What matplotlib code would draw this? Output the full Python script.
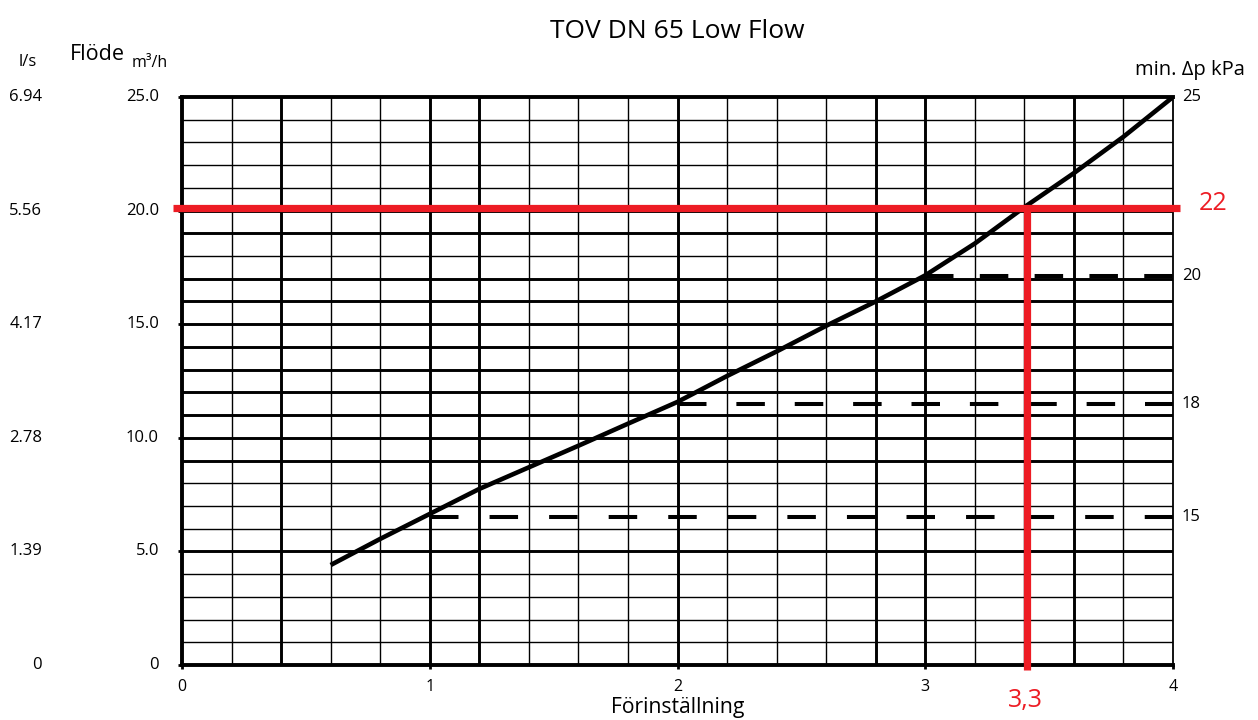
import numpy as np
import matplotlib
matplotlib.use("Agg")
import matplotlib.pyplot as plt

plt.rcParams['font.family'] = ['Open Sans', 'DejaVu Sans']
plt.rcParams['lines.scale_dashes'] = False

# ---- data ----
title = "TOV DN 65 Low Flow"
x_label = "Förinställning"
presetting = [0.6, 0.8, 1.0, 1.2, 1.4, 1.6, 1.8, 2.0, 2.2, 2.4, 2.6, 2.8,
              3.0, 3.2, 3.4, 3.6, 3.8, 4.0]
flow_m3h = [4.4, 5.55, 6.65, 7.75, 8.7, 9.65, 10.62, 11.58, 12.72, 13.8,
            14.93, 16.0, 17.15, 18.55, 20.15, 21.65, 23.25, 25.0]
x_ticks = [0, 1, 2, 3, 4]
y_ticks = [0, 5, 10, 15, 20, 25]
y_ticklabels = ["0", "5.0", "10.0", "15.0", "20.0", "25.0"]
ls_ticklabels = ["0", "1.39", "2.78", "4.17", "5.56", "6.94"]
dp_labels = ["15", "18", "20"]
dp_level = [6.53, 11.5, 17.13]
dp_start = [1.0, 2.0, 3.0]
dp_top_label = "25"
dp_top_level = 25.0
red_flow = 20.1
red_setting = 3.41
red_flow_label = "22"
red_setting_label = "3,3"

thick_h = [5, 9, 10, 11, 12, 13, 14, 15, 16, 17, 19, 20]
thick_v = [0.4, 1.0, 1.2, 2.0, 2.8, 3.0, 3.6]

W, H = 1258, 720
AX_W, AX_H = 991, 568
fig = plt.figure(figsize=(W / 100, H / 100), dpi=100)
ax = fig.add_axes([182 / W, 55 / H, AX_W / W, AX_H / H])
ax.set_xlim(0, 4)
ax.set_ylim(0, 25)

RED = '#ED1C24'

# grid
for yv in np.arange(1, 25):
    lw = 2.1 if yv in thick_h else 1.0
    ax.axhline(yv, color='black', lw=lw, zorder=1)
for xv in np.round(np.arange(0.2, 4.0, 0.2), 1):
    lw = 2.1 if xv in thick_v else 1.0
    ax.axvline(xv, color='black', lw=lw, zorder=1)

# spines
for s in ['left', 'top', 'bottom']:
    ax.spines[s].set_linewidth(2.8)
ax.spines['right'].set_linewidth(1.3)
for s in ax.spines.values():
    s.set_zorder(3)

# ticks and labels
ax.set_yticks(y_ticks)
ax.set_yticklabels([])
ax.tick_params(axis='y', length=3, width=2, direction='out')
ax.set_xticks(x_ticks)
ax.set_xticklabels([str(v) for v in x_ticks], fontsize=11.5)
ax.tick_params(axis='x', length=3, width=2, direction='out', pad=7)

trans_y = ax.get_yaxis_transform()
for yv, lab, lab2 in zip(y_ticks, y_ticklabels, ls_ticklabels):
    ax.text(-23 / AX_W, yv, lab, transform=trans_y, ha='right', va='center', fontsize=12)
    ax.text(-140 / AX_W, yv, lab2, transform=trans_y, ha='right', va='center', fontsize=12)

# dashed min dp lines (each starts and ends with a dash)
px_per_unit = AX_W / 4.0
dash_px = 28.5
for lvl, x0, lab in zip(dp_level, dp_start, dp_labels):
    length_px = (4.0 - x0) * px_per_unit
    n = int(round((length_px - dash_px) / 58.0)) + 1
    period = (length_px - dash_px) / (n - 1)
    ax.plot([x0, 4.0], [lvl, lvl], color='black', lw=2.9,
            ls=(0, (dash_px * 0.72, (period - dash_px) * 0.72)),
            dash_capstyle='butt', zorder=2)
    ax.text(1.009, lvl, lab, transform=trans_y, ha='left', va='center', fontsize=12)
ax.text(1.009, dp_top_level, dp_top_label, transform=trans_y, ha='left', va='center', fontsize=12)

# main curve
ax.plot(presetting, flow_m3h, color='black', lw=3.3, zorder=4, solid_capstyle='butt')

# red lines
ax.plot([-0.036, 4.03], [red_flow, red_flow], color=RED, lw=5.2, zorder=5,
        clip_on=False, solid_capstyle='butt')
ax.plot([red_setting, red_setting], [red_flow, -0.2], color=RED, lw=5.2, zorder=5,
        clip_on=False, solid_capstyle='butt')
ax.text(1213, 720 - 204, red_flow_label, transform=None, color=RED,
        ha='center', va='center', fontsize=18)
ax.text(1025, 720 - 700, red_setting_label, transform=None, color=RED,
        ha='center', va='center', fontsize=18)

# texts
fig.text(677 / W, 1 - 31 / H, title, ha='center', va='center', fontsize=19)
fig.text(678 / W, 1 - 707 / H, x_label, ha='center', va='center', fontsize=15.2)
fig.text(1190 / W, 1 - 70 / H, "min. Δp kPa", ha='center', va='center', fontsize=14.5)
fig.text(97 / W, 1 - 54 / H, "Flöde", ha='center', va='center', fontsize=15.5)
fig.text(150 / W, 1 - 63 / H, "m³/h", ha='center', va='center', fontsize=11.5)
fig.text(28 / W, 1 - 62 / H, "l/s", ha='center', va='center', fontsize=12)

fig.savefig('out.png', dpi=100)
